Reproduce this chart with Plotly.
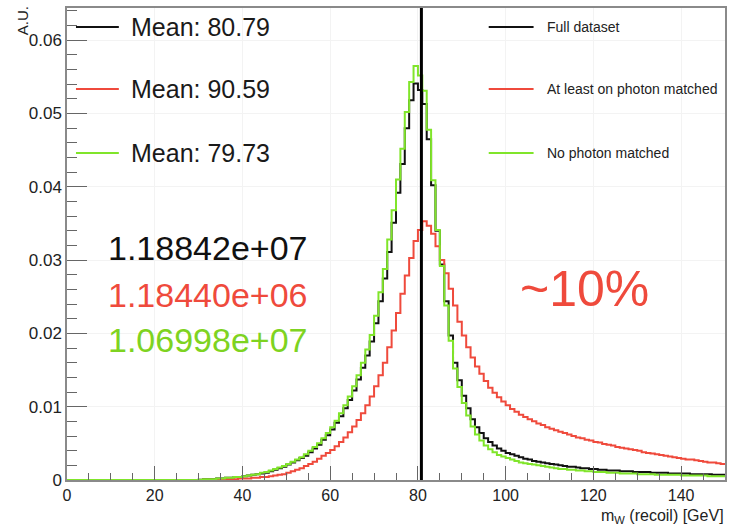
import plotly.graph_objects as go

# ---------------- data (1 GeV bins, 0-150 GeV) ----------------
bin_edges = list(range(0, 151))

full_dataset = [
    0, 0, 0, 0, 0, 0, 0, 0, 0, 0,
    0, 0, 0, 0, 0, 0, 0, 0, 0, 0,
    0, 0, 0, 0, 0, 0, 0, 0, 0, 0,
    0.00005, 0.0001, 0.0001, 0.0001, 0.0002, 0.0002, 0.0003, 0.0003, 0.0004, 0.0004,
    0.0005, 0.0006, 0.0007, 0.0008, 0.0009, 0.0010, 0.0012, 0.0014, 0.0016, 0.0018,
    0.0021, 0.0024, 0.0027, 0.0030, 0.0033, 0.0038, 0.0043, 0.0048, 0.0055, 0.0061,
    0.0069, 0.0078, 0.0087, 0.0098, 0.0109, 0.0122, 0.0137, 0.0153, 0.0170, 0.0189,
    0.0214, 0.0244, 0.0275, 0.0311, 0.0351, 0.0392, 0.0431, 0.0480, 0.0518, 0.0541,
    0.0532, 0.0513, 0.0465, 0.0402, 0.0340, 0.0294, 0.0244, 0.0197, 0.0160, 0.0136,
    0.0115, 0.0098, 0.0083, 0.0072, 0.0064, 0.0057, 0.0052, 0.0047, 0.0043, 0.0040,
    0.0037, 0.0035, 0.0033, 0.0031, 0.0029, 0.0028, 0.0026, 0.0025, 0.0024, 0.0023,
    0.0022, 0.0021, 0.0020, 0.0019, 0.0018, 0.0018, 0.0017, 0.0016, 0.0016, 0.0015,
    0.0015, 0.0014, 0.0014, 0.0013, 0.0013, 0.0013, 0.0012, 0.0012, 0.0012, 0.0011,
    0.0011, 0.0011, 0.0011, 0.0010, 0.0010, 0.0010, 0.0010, 0.0009, 0.0009, 0.0009,
    0.0009, 0.0009, 0.0008, 0.0008, 0.0008, 0.0008, 0.0008, 0.0007, 0.0007, 0.0007,
]

photon_matched = [
    0, 0, 0, 0, 0, 0, 0, 0, 0, 0,
    0, 0, 0, 0, 0, 0, 0, 0, 0, 0,
    0, 0, 0, 0, 0, 0, 0, 0, 0, 0,
    0, 0.00003, 0.00005, 0.00005, 0.0001, 0.0001, 0.0001, 0.0001, 0.0001, 0.0002,
    0.0002, 0.0002, 0.0003, 0.0003, 0.0004, 0.0004, 0.0005, 0.0006, 0.0007, 0.0008,
    0.0010, 0.0012, 0.0014, 0.0016, 0.0019, 0.0022, 0.0025, 0.0029, 0.0033, 0.0037,
    0.0041, 0.0046, 0.0052, 0.0058, 0.0065, 0.0073, 0.0082, 0.0091, 0.0102, 0.0114,
    0.0128, 0.0143, 0.0160, 0.0181, 0.0204, 0.0228, 0.0254, 0.0279, 0.0303, 0.0326,
    0.0341, 0.0353, 0.0347, 0.0336, 0.0319, 0.0300, 0.0282, 0.0261, 0.0238, 0.0216,
    0.0197, 0.0181, 0.0167, 0.0155, 0.0145, 0.0135, 0.0126, 0.0119, 0.0113, 0.0107,
    0.0102, 0.0097, 0.0093, 0.0089, 0.0086, 0.0083, 0.0080, 0.0077, 0.0075, 0.0072,
    0.0070, 0.0068, 0.0066, 0.0064, 0.0062, 0.0060, 0.0058, 0.0057, 0.0055, 0.0054,
    0.0052, 0.0051, 0.0049, 0.0048, 0.0047, 0.0045, 0.0044, 0.0043, 0.0042, 0.0041,
    0.0040, 0.0038, 0.0037, 0.0036, 0.0035, 0.0034, 0.0033, 0.0032, 0.0031, 0.0030,
    0.0029, 0.0028, 0.0028, 0.0027, 0.0026, 0.0025, 0.0024, 0.0024, 0.0023, 0.0022,
]

no_photon_matched = [
    0, 0, 0, 0, 0, 0, 0, 0, 0, 0,
    0, 0, 0, 0, 0, 0, 0, 0, 0, 0,
    0, 0, 0, 0, 0, 0, 0, 0, 0, 0,
    0.00005, 0.0001, 0.0001, 0.0001, 0.0002, 0.0002, 0.0003, 0.0003, 0.0004, 0.0004,
    0.0005, 0.0006, 0.0007, 0.0008, 0.0010, 0.0011, 0.0013, 0.0015, 0.0017, 0.0019,
    0.0022, 0.0025, 0.0028, 0.0031, 0.0035, 0.0040, 0.0045, 0.0050, 0.0057, 0.0064,
    0.0072, 0.0081, 0.0091, 0.0102, 0.0114, 0.0128, 0.0143, 0.0160, 0.0178, 0.0198,
    0.0224, 0.0256, 0.0288, 0.0328, 0.0368, 0.0410, 0.0452, 0.0502, 0.0543, 0.0565,
    0.0552, 0.0531, 0.0478, 0.0409, 0.0341, 0.0292, 0.0238, 0.0190, 0.0152, 0.0127,
    0.0105, 0.0088, 0.0073, 0.0062, 0.0054, 0.0047, 0.0042, 0.0038, 0.0034, 0.0032,
    0.0030, 0.0028, 0.0026, 0.0024, 0.0023, 0.0022, 0.0021, 0.0020, 0.0019, 0.0018,
    0.0017, 0.0016, 0.0015, 0.0015, 0.0014, 0.0014, 0.0013, 0.0013, 0.0012, 0.0012,
    0.0011, 0.0011, 0.0011, 0.0010, 0.0010, 0.0010, 0.0009, 0.0009, 0.0009, 0.0009,
    0.0008, 0.0008, 0.0008, 0.0008, 0.0007, 0.0007, 0.0007, 0.0007, 0.0007, 0.0007,
    0.0006, 0.0006, 0.0006, 0.0006, 0.0006, 0.0006, 0.0005, 0.0005, 0.0005, 0.0005,
]

series_names = ["Full dataset", "At least on photon matched", "No photon matched"]
means = [80.79, 90.59, 79.73]
entries = ["1.18842e+07", "1.18440e+06", "1.06998e+07"]

BLACK = "#111111"
RED = "#ef4a3c"
GREEN = "#80e52a"
colors = [BLACK, RED, GREEN]
FONT = "Liberation Sans, Arial, sans-serif"

# ---------------- figure ----------------
fig = go.Figure()
for vals, col, name in zip([full_dataset, photon_matched, no_photon_matched], colors, series_names):
    fig.add_trace(go.Scatter(
        x=bin_edges, y=vals + [vals[-1]],
        mode="lines", line=dict(color=col, width=2, shape="hv"),
        name=name, showlegend=False, hoverinfo="skip"))

# plot-area pixel geometry helpers (for layout decorations only)
L, R, T, B = 67, 727, 8, 480
def px(x):
    return (x - L) / (R - L)
def py(y):
    return (B - y) / (B - T)

shapes = []
annotations = []
# mean line of the full dataset
shapes.append(dict(type="line", xref="x", yref="paper", x0=means[0], x1=means[0],
                   y0=0, y1=1, line=dict(color="black", width=3)))

legend_y = [27, 89, 153]
for i in range(3):
    # left legend (means)
    shapes.append(dict(type="line", xref="paper", yref="paper",
                       x0=px(76), x1=px(119), y0=py(legend_y[i]), y1=py(legend_y[i]),
                       line=dict(color=colors[i], width=2)))
    annotations.append(dict(xref="paper", yref="paper", x=px(129), y=py(legend_y[i]),
                            xanchor="left", yanchor="middle", showarrow=False,
                            text=f"Mean: {means[i]:.2f}",
                            font=dict(family=FONT, size=25, color="#1a1a1a")))
    # right legend (names)
    shapes.append(dict(type="line", xref="paper", yref="paper",
                       x0=px(490), x1=px(535), y0=py(legend_y[i]), y1=py(legend_y[i]),
                       line=dict(color=colors[i], width=2)))
    annotations.append(dict(xref="paper", yref="paper", x=px(546), y=py(legend_y[i]),
                            xanchor="left", yanchor="middle", showarrow=False,
                            text=series_names[i],
                            font=dict(family=FONT, size=14, color="#222222")))

entry_y = [248, 295, 340]
entry_cols = ["#111111", RED, "#7ed321"]
for i in range(3):
    annotations.append(dict(xref="paper", yref="paper", x=px(106), y=py(entry_y[i]),
                            xanchor="left", yanchor="middle", showarrow=False,
                            text=entries[i],
                            font=dict(family=FONT, size=34, color=entry_cols[i])))

annotations.append(dict(xref="paper", yref="paper", x=px(586), y=py(289),
                        xanchor="center", yanchor="middle", showarrow=False,
                        text="~10%", font=dict(family=FONT, size=50, color=RED)))

annotations.append(dict(xref="paper", yref="paper", x=px(22), y=py(21),
                        xanchor="center", yanchor="middle", showarrow=False,
                        textangle=-90, text="A.U.",
                        font=dict(family=FONT, size=15, color="#222222")))

annotations.append(dict(xref="paper", yref="paper", x=px(728), y=py(516),
                        xanchor="right", yanchor="middle", showarrow=False,
                        text="m<sub>W</sub> (recoil) [GeV]",
                        font=dict(family=FONT, size=16, color="#222222")))

fig.update_layout(
    width=729, height=525, autosize=False,
    margin=dict(l=L, r=729 - R, t=T, b=525 - B),
    paper_bgcolor="white", plot_bgcolor="white",
    shapes=shapes, annotations=annotations,
    showlegend=False,
)
fig.update_xaxes(
    range=[0, 150], tickmode="linear", tick0=0, dtick=20,
    ticks="inside", ticklen=14, tickwidth=1, tickcolor="#666666",
    minor=dict(dtick=5, ticks="inside", ticklen=7, tickcolor="#666666", showgrid=False),
    showline=True, linecolor="#8a8a8a", linewidth=1.5, mirror=True,
    showgrid=True, gridcolor="#f3f3f3", zeroline=False,
    tickfont=dict(family=FONT, size=16, color="#222222"),
)
fig.update_yaxes(
    range=[0, 0.0644], tickmode="linear", tick0=0, dtick=0.01,
    ticks="inside", ticklen=20, tickwidth=1, tickcolor="#666666",
    minor=dict(dtick=0.002, ticks="inside", ticklen=10, tickcolor="#666666", showgrid=False),
    showline=True, linecolor="#8a8a8a", linewidth=1.5, mirror=True,
    showgrid=True, gridcolor="#f3f3f3", zeroline=False,
    tickfont=dict(family=FONT, size=17, color="#222222"),
)

fig.write_html("out.html")
